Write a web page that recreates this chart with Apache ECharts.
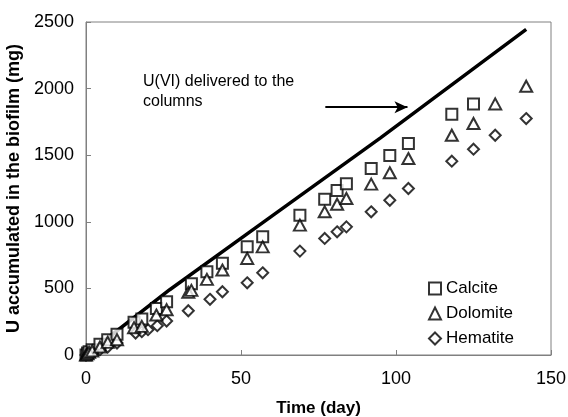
<!DOCTYPE html>
<html>
<head>
<meta charset="utf-8">
<script src="https://cdn.jsdelivr.net/npm/echarts@6/dist/echarts.min.js"></script>
<style>
  html, body { margin: 0; padding: 0; background: #fff; }
  #main { width: 568px; height: 417px; }
</style>
</head>
<body>
<div id="main"></div>
<script>
// delivered U(VI) line (day, mg)
const deliveredDays = [0, 27, 55, 95, 142]
const deliveredU = [0, 490, 960, 1630, 2445]

// calcite columns
const calciteDays = [0, 0.5, 1, 2, 4.5, 7, 10, 15.5, 18, 22.7, 26, 34, 39, 44, 52, 57, 69, 77, 81, 84, 92, 98, 104, 118, 125]
const calciteU = [0, 15, 25, 40, 80, 115, 155, 245, 270, 350, 400, 535, 625, 688, 812, 888, 1050, 1170, 1235, 1285, 1400, 1497, 1588, 1808, 1885]

// dolomite columns
const dolomiteDays = [0, 0.5, 1, 2, 4.5, 7, 10, 15.5, 18, 22.7, 26, 33, 34, 39, 44, 52, 57, 69, 77, 81, 84, 92, 98, 104, 118, 125, 132, 142]
const dolomiteU = [0, 10, 20, 30, 60, 95, 115, 205, 215, 300, 340, 470, 485, 568, 638, 725, 812, 975, 1075, 1132, 1175, 1283, 1368, 1475, 1650, 1738, 1885, 2018]

// hematite columns
const hematiteDays = [0, 0.5, 1, 2, 4.5, 7, 10, 16, 18, 20, 23, 26, 33, 40, 44, 52, 57, 69, 77, 81, 84, 92, 98, 104, 118, 125, 132, 142]
const hematiteU = [0, 8, 15, 25, 40, 60, 90, 165, 175, 190, 220, 255, 332, 418, 475, 542, 617, 780, 875, 925, 962, 1075, 1162, 1250, 1455, 1545, 1650, 1775]

// arrow pointing at the delivered line
const arrowFrom = [77.2, 1860]
const arrowTo = [103.7, 1860]

function pairs (xs, ys) {
  return xs.map((x, i) => [x, ys[i]])
}

const font = 'Liberation Sans, Arial, sans-serif'
const myChart = echarts.init(document.getElementById('main'))

const hollow = {
  color: '#fff',
  borderColor: '#000',
  borderWidth: 2
}

const option = {
  backgroundColor: '#fff',
  animation: false,
  textStyle: { fontFamily: font, color: '#000' },
  grid: {
    left: 86,
    right: 17,
    top: 22,
    bottom: 62,
    containLabel: false,
    outerBoundsMode: 'none',
    show: true,
    borderColor: '#808080',
    borderWidth: 1
  },
  legend: {
    orient: 'vertical',
    left: 423,
    top: 275,
    itemGap: 8,
    itemWidth: 12,
    itemHeight: 12,
    textStyle: { fontSize: 17, color: '#000', fontFamily: font },
    data: ['Calcite', 'Dolomite', 'Hematite']
  },
  xAxis: {
    type: 'value',
    min: 0,
    max: 150,
    interval: 50,
    name: 'Time (day)',
    nameLocation: 'middle',
    nameGap: 45,
    nameTextStyle: { fontSize: 17, fontWeight: 'bold', color: '#000' },
    axisLine: { lineStyle: { color: '#808080' } },
    axisTick: { inside: true, length: 5, lineStyle: { color: '#808080' } },
    axisLabel: { fontSize: 18, color: '#000', margin: 15 },
    splitLine: { show: false }
  },
  yAxis: {
    type: 'value',
    min: 0,
    max: 2500,
    interval: 500,
    name: 'U accumulated in the biofilm (mg)',
    nameLocation: 'middle',
    nameGap: 52,
    nameTextStyle: { fontSize: 18, fontWeight: 'bold', color: '#000' },
    axisLine: { show: true, lineStyle: { color: '#808080' } },
    axisTick: { show: true, inside: true, length: 5, lineStyle: { color: '#808080' } },
    axisLabel: { fontSize: 18, color: '#000', margin: 12, formatter: v => String(v) },
    splitLine: { show: false }
  },
  graphic: [
    {
      type: 'text',
      left: 143,
      top: 72,
      style: {
        text: 'U(VI) delivered to the\ncolumns',
        font: '16px ' + font,
        fill: '#000',
        lineHeight: 20
      }
    }
  ],
  series: [
    {
      name: 'Delivered',
      type: 'line',
      data: pairs(deliveredDays, deliveredU),
      showSymbol: false,
      lineStyle: { color: '#000', width: 3.5 },
      z: 1,
      markLine: {
        silent: true,
        symbol: ['none', 'arrow'],
        symbolSize: [9, 13],
        label: { show: false },
        lineStyle: { color: '#000', width: 2, type: 'solid' },
        data: [[{ coord: arrowFrom }, { coord: arrowTo }]]
      }
    },
    {
      name: 'Calcite',
      type: 'scatter',
      symbol: 'rect',
      symbolSize: 11,
      itemStyle: hollow,
      data: pairs(calciteDays, calciteU),
      z: 3
    },
    {
      name: 'Dolomite',
      type: 'scatter',
      symbol: 'triangle',
      symbolSize: [12, 11],
      itemStyle: hollow,
      data: pairs(dolomiteDays, dolomiteU),
      z: 4
    },
    {
      name: 'Hematite',
      type: 'scatter',
      symbol: 'diamond',
      symbolSize: 11,
      itemStyle: hollow,
      data: pairs(hematiteDays, hematiteU),
      z: 2
    }
  ]
}

myChart.setOption(option)
</script>
</body>
</html>
